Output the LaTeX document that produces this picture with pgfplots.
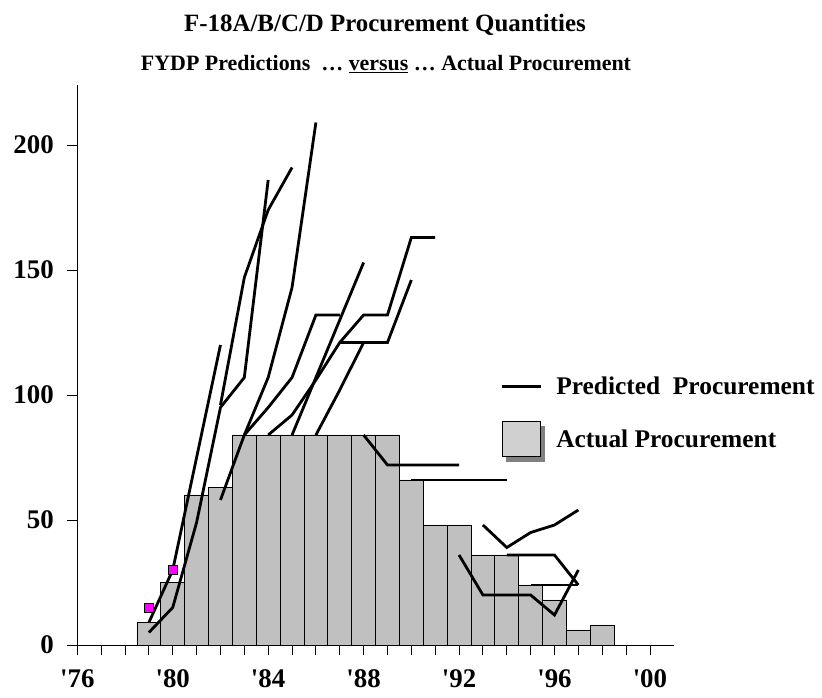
\documentclass[border=0pt]{standalone}
\usepackage{fontspec}
\setmainfont{Liberation Serif}
\usepackage{pgfplots}
\pgfplotsset{compat=1.18}
\definecolor{barfill}{RGB}{192,192,192}
\definecolor{legfill}{RGB}{208,208,208}
\definecolor{mag}{RGB}{255,0,255}
\begin{document}
\begin{tikzpicture}
\useasboundingbox (0bp,0bp) rectangle (822bp,698bp);
\node[font=\bfseries\fontsize{25}{30}\selectfont] at (385bp,673bp) {F-18A/B/C/D Procurement Quantities};
\node[font=\bfseries\fontsize{22}{26}\selectfont] at (386bp,634bp) {FYDP Predictions\ \ \ldots\ \underline{versus} \ldots\ Actual Procurement};
\begin{axis}[
  at={(77.3bp,53bp)}, anchor=south west,
  scale only axis, width=596.5bp, height=560bp,
  xmin=1976, xmax=2001, ymin=0, ymax=224,
  axis lines=left, axis line style={-, black, line width=0.8bp},
  xtick={1976,1980,...,2000},
  xticklabels={{\textquotesingle76},{\textquotesingle80},{\textquotesingle84},{\textquotesingle88},{\textquotesingle92},{\textquotesingle96},{\textquotesingle00}},
  minor xtick={1977,...,1999},
  ytick={0,50,...,200},
  tick align=outside, major tick length=10bp, minor tick length=10bp,
  tick style={black, line width=0.8bp},
  every tick label/.append style={font=\bfseries\fontsize{27}{30}\selectfont},
  yticklabel style={xshift=-10bp},
  xticklabel style={yshift=-11bp},
  /pgf/number format/assume math mode=true,
  clip=false,
  legend style={draw=none, fill=none, at={(axis description cs:0.7045,0.405)}, anchor=west,
    font=\bfseries\fontsize{25.5}{29}\selectfont, row sep=23bp,
    /tikz/every odd column/.append style={column sep=10bp}},
  legend cell align=left,
]
\addplot[ybar, bar width=1, fill=barfill, draw=black, line width=0.8bp, forget plot] coordinates {
(1979,9) (1980,25) (1981,60) (1982,63) (1983,84) (1984,84) (1985,84) (1986,84) (1987,84) (1988,84) (1989,84)
(1990,66) (1991,48) (1992,48) (1993,36) (1994,36) (1995,24) (1996,18) (1997,6) (1998,8)};
\addplot[black, line width=2.8bp, forget plot] coordinates {(1979,9) (1980,30) (1981,75) (1982,120)};
\addplot[black, line width=2.8bp, forget plot] coordinates {(1979,5) (1980,15) (1981,49) (1982,95) (1983,107) (1984,186)};
\addplot[black, line width=2.8bp, forget plot] coordinates {(1982,96) (1983,147) (1984,174) (1985,191)};
\addplot[black, line width=2.8bp, forget plot] coordinates {(1982,58) (1983,84) (1984,107) (1985,143) (1986,209)};
\addplot[black, line width=2.8bp, forget plot] coordinates {(1983,84) (1984,95) (1985,107) (1986,132) (1987,132)};
\addplot[black, line width=2.8bp, forget plot] coordinates {(1984,84) (1985,92) (1986,106) (1987,121) (1988,132) (1989,132) (1990,163) (1991,163)};
\addplot[black, line width=2.8bp, forget plot] coordinates {(1985,84) (1986,107) (1987,130) (1988,153)};
\addplot[black, line width=2.8bp, forget plot] coordinates {(1986,84) (1987,102) (1988,121) (1989,121) (1990,146)};
\addplot[black, line width=2.8bp, forget plot] coordinates {(1987,121) (1988,121)};
\addplot[black, line width=2.8bp, forget plot] coordinates {(1988,84) (1989,72) (1990,72) (1991,72) (1992,72)};
\addplot[black, line width=2.8bp, forget plot] coordinates {(1990,66) (1991,66) (1992,66) (1993,66) (1994,66)};
\addplot[black, line width=2.8bp, forget plot] coordinates {(1993,48) (1994,39) (1995,45) (1996,48) (1997,54)};
\addplot[black, line width=2.8bp, forget plot] coordinates {(1992,36) (1993,20) (1994,20) (1995,20) (1996,12) (1997,30)};
\addplot[black, line width=2.8bp, forget plot] coordinates {(1994,36) (1995,36) (1996,36) (1997,24)};
\addplot[black, line width=2.8bp, forget plot] coordinates {(1995,24) (1996,24) (1997,24)};
\addplot[only marks, mark=square*, mark size=4.5bp, mark options={fill=mag, draw=black, line width=0.6bp}, forget plot] coordinates {(1979,15) (1980,30)};
\addlegendimage{legend image code/.code={\draw[line width=2.8bp] (0bp,0bp) -- (39bp,0bp);}}
\addlegendentry{Predicted\ \ Procurement}
\addlegendimage{legend image code/.code={\fill[black!50] (4bp,-21bp) rectangle (42bp,14bp); \draw[fill=legfill, line width=0.8bp] (0bp,-17bp) rectangle (38bp,18bp);}}
\addlegendentry{Actual Procurement}
\end{axis}
\end{tikzpicture}
\end{document}
